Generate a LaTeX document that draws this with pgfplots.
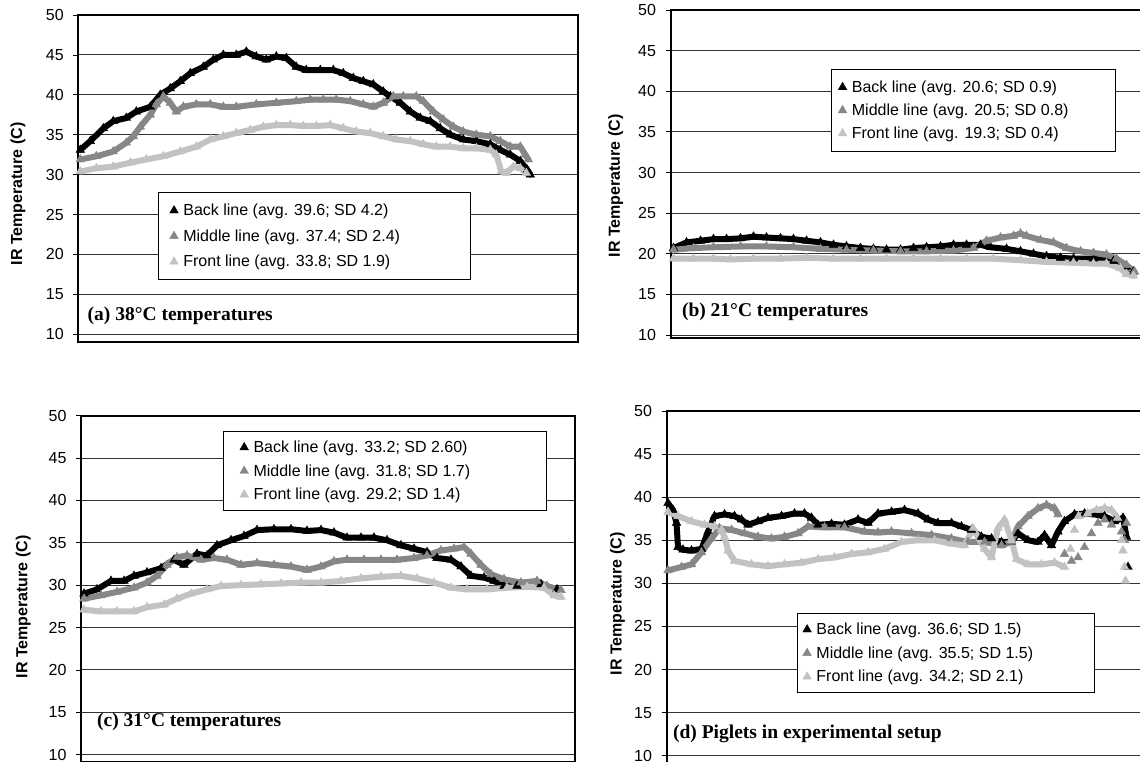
\documentclass[border=0pt]{standalone}
\usepackage{fontspec}
\setmainfont{Liberation Sans}
\newfontfamily\captionserif{Liberation Serif}
\usepackage{pgfplots}
\usepackage{pgfplotstable}
\pgfplotsset{compat=1.18}

\definecolor{backc}{gray}{0}
\definecolor{midc}{gray}{0.53}
\definecolor{frontc}{gray}{0.76}

% ---------------- (a) 38 C ----------------
\pgfplotstableread{
x y
2 33.1
12 34.2
25 35.8
35 36.7
48 37.1
58 37.9
72 38.5
82 40.0
92 40.8
102 41.7
112 42.7
125 43.5
135 44.4
145 45.0
158 45.0
168 45.4
178 44.8
188 44.4
198 44.8
208 44.6
218 43.5
228 43.1
242 43.1
255 43.1
265 42.7
275 42.1
285 41.7
295 41.3
305 40.4
312 39.8
322 39.0
332 37.9
342 37.1
352 36.7
362 35.8
372 35.0
385 34.4
398 34.2
412 33.8
422 33.1
432 32.5
442 31.7
449 30.6
452 30.0
}\aBack
\pgfplotstableread{
x y
2 31.9
18 32.3
35 32.9
48 34.0
55 34.8
62 36.0
72 37.5
78 38.8
85 39.8
92 39.0
98 37.9
105 38.5
118 38.8
132 38.8
145 38.5
158 38.5
178 38.8
198 39.0
218 39.2
232 39.4
245 39.4
258 39.4
272 39.2
285 38.8
295 38.5
305 39.0
315 39.8
325 39.8
338 39.8
345 39.2
355 37.9
365 36.9
375 36.0
385 35.4
398 35.0
412 34.8
422 34.2
432 33.5
442 33.5
447 32.5
450 31.9
}\aMid
\pgfplotstableread{
x y
2 30.4
18 30.8
35 31.0
52 31.5
68 31.9
85 32.3
102 32.9
118 33.5
132 34.4
145 34.8
158 35.2
172 35.6
185 36.0
198 36.2
212 36.2
225 36.1
238 36.1
252 36.2
265 35.8
278 35.4
292 35.2
305 34.8
318 34.4
332 34.2
345 33.8
358 33.5
372 33.5
385 33.3
398 33.3
412 33.1
418 32.5
423 30.4
428 30.2
435 31.0
442 30.8
448 30.2
}\aFront

% ---------------- (b) 21 C ----------------
\pgfplotstableread{
x y
3 20.7
16 21.4
30 21.6
43 21.8
56 21.8
70 21.9
83 22.1
96 22.0
110 21.9
123 21.8
136 21.6
150 21.4
163 21.1
176 20.9
190 20.7
203 20.6
216 20.5
230 20.5
243 20.7
256 20.8
270 20.9
283 21.1
296 21.1
310 21.1
320 20.8
336 20.6
350 20.3
363 20.0
376 19.7
390 19.5
403 19.4
423 19.4
443 19.1
456 18.4
463 17.8
}\bBack
\pgfplotstableread{
x y
3 20.5
23 20.7
43 20.8
70 20.9
96 20.9
123 20.8
150 20.6
176 20.5
203 20.4
230 20.3
256 20.3
283 20.4
303 20.7
316 21.6
330 22.0
343 22.2
350 22.5
356 22.2
370 21.7
383 21.4
396 20.7
410 20.3
423 20.1
436 19.9
446 19.4
456 18.6
464 17.8
}\bMid
\pgfplotstableread{
x y
3 19.4
23 19.4
43 19.4
60 19.3
83 19.4
110 19.4
136 19.5
163 19.4
190 19.4
216 19.4
243 19.4
270 19.4
296 19.4
323 19.4
350 19.2
376 19.0
403 18.9
423 18.8
436 18.8
450 18.2
456 17.5
463 17.3
}\bFront

% ---------------- (c) 31 C ----------------
\pgfplotstableread{
x y
3 29.0
16 29.5
30 30.5
43 30.5
53 31.1
66 31.5
80 32.0
93 33.0
103 32.4
116 33.7
126 33.5
136 34.7
150 35.3
163 35.8
176 36.5
193 36.6
210 36.6
226 36.4
240 36.5
253 36.2
266 35.6
280 35.6
293 35.6
306 35.3
320 34.7
333 34.3
346 33.9
356 33.2
370 33.0
380 32.2
390 31.1
403 30.9
413 30.5
423 29.9
436 29.9
460 30.1
476 29.5
}\cBack
\pgfplotstableread{
x y
3 28.4
20 28.8
36 29.2
53 29.7
66 30.3
76 31.1
86 32.4
96 33.3
106 33.5
120 33.0
133 33.2
146 33.0
160 32.4
176 32.6
193 32.4
210 32.2
226 31.8
240 32.2
253 32.8
266 33.0
283 33.0
300 33.0
316 33.0
333 33.2
346 33.5
360 34.1
373 34.3
383 34.5
390 33.7
400 32.4
410 31.3
423 30.7
440 30.3
456 30.5
466 29.9
480 29.4
}\cMid
\pgfplotstableread{
x y
3 27.1
20 26.9
36 26.9
53 26.9
66 27.4
83 27.7
96 28.4
110 29.0
126 29.5
140 29.9
160 30.0
180 30.1
200 30.2
220 30.3
240 30.3
260 30.5
280 30.8
300 31.0
320 31.1
336 30.8
353 30.3
370 29.7
386 29.5
406 29.5
426 29.7
446 29.8
463 29.7
473 28.8
480 28.6
}\cFront

% ---------------- (d) piglets ----------------
\pgfplotstableread{
x y
1.5 39.3
6.5 38.5
10 37.0
11.5 34.2
16.5 33.9
25 33.8
35 34.0
41.5 36.0
48 37.8
58 38.0
68 37.8
75 37.4
81.5 36.8
91.5 37.2
101.5 37.6
115 37.8
128 38.1
138 38.1
145 37.6
151.5 36.8
165 36.9
178 36.8
191.5 37.4
201.5 37.0
211.5 38.1
225 38.3
238 38.5
251.5 38.1
261.5 37.4
271.5 37.0
285 37.0
295 36.6
305 36.2
315 35.4
325 35.2
335 34.8
345 34.8
351.5 35.8
361.5 35.0
371.5 34.8
378 35.6
385 34.4
391.5 36.0
398 37.2
408 38.0
418 38.1
428 38.0
438 37.8
448 37.2
456.5 37.6
460 35.4
460.5 nan
461.5 31.9
}\dBack
\pgfplotstableread{
x y
1.5 31.5
15 31.9
25 32.2
35 33.6
45 35.2
53 36.4
65 36.2
78 35.8
91.5 35.4
105 35.2
118 35.4
131.5 35.8
141.5 36.6
158 36.5
178 36.5
198 36.0
211.5 35.9
225 36.0
245 35.8
265 35.6
285 35.2
301.5 34.8
318 34.8
335 34.4
345 34.8
351.5 36.6
361.5 37.8
371.5 38.7
380 39.1
388 38.7
391.5 38.0
395 nan
398 33.4
401 nan
405 32.6
408 nan
411.5 33.0
414 nan
418 34.2
421 nan
425 35.8
428 nan
431.5 37.0
434 nan
438 37.4
441 nan
445 36.8
450 nan
455 36.0
456 nan
458 35.0
459 nan
460 37.0
}\dMid
\pgfplotstableread{
x y
1.5 38.3
11.5 37.8
25 37.2
38 36.8
48 36.6
55 36.2
58 35.4
61.5 33.8
68 32.6
85 32.2
101.5 32.0
118 32.2
135 32.4
151.5 32.8
168 33.0
185 33.4
201.5 33.6
218 34.0
235 34.8
251.5 35.0
268 35.0
285 34.6
298 34.4
306.5 36.4
318 34.0
325 33.0
331.5 36.4
338 37.4
345 35.0
350 32.8
361.5 32.2
375 32.2
388 32.4
398 31.9
401 nan
404 34.0
406 nan
408 36.2
410 nan
412 37.8
421 38.1
430 38.5
438 38.7
445 38.5
451 37.6
453 nan
455 35.0
455.5 nan
456.5 33.8
457 nan
458 31.9
458.5 nan
459 30.3
}\dFront

\pgfplotsset{
  irpanel/.style={
    scale only axis,
    xmin=0, ymax=50,
    xtick=\empty,
    ytick={10,15,...,50},
    ytick pos=left,
    tick align=outside,
    major tick length=5pt,
    tick style={black, line width=0.8pt},
    axis line style={black, line width=2pt},
    ymajorgrids,
    grid style={black!80, line width=0.9pt},
    yticklabel style={font=\fontsize{16}{16}\selectfont, xshift=-6pt},
    /pgf/number format/assume math mode=true,
    unbounded coords=jump,
    legend cell align=left,
    legend image code/.code={\draw[mark repeat=2,mark phase=2,##1] plot coordinates {(0pt,0pt) (6pt,0pt) (12pt,0pt)};},
    legend style={draw=black, line width=0.8pt, fill=white, anchor=north west,
      font=\fontsize{16}{16}\selectfont, nodes={inner sep=0pt}},
  },
  band/.style={draw=#1, line width=6pt, line join=round, line cap=round, no markers, forget plot},
  tri/.style={only marks, mark=triangle*, mark size=5pt, color=#1, mark options={line width=0.4pt}},
}

\newcommand{\ylab}{\bfseries\fontsize{16}{16}\selectfont}
\newcommand{\ptitle}{\captionserif\bfseries\fontsize{19.5}{20}\selectfont}
% legend entry text, padded to a fixed cell width
\newcommand{\lentry}[2]{\makebox[#1][l]{\hspace*{5pt}#2}}

\begin{document}
\begin{tikzpicture}
\useasboundingbox (0pt,0pt) rectangle (1140pt,-761pt);

% (a)
\begin{axis}[irpanel, at={(78.3pt,-15pt)}, anchor=north west,
  width=500pt, height=326.7pt, xmax=500, ymin=9.07,
  legend style={at={(0.160,0.458)}, inner xsep=11pt, inner ysep=11.5pt, row sep=12.5pt}]
\addplot[band=backc] table {\aBack};
\addplot[tri=backc] table {\aBack};
\addlegendentry{\lentry{281pt}{Back line (avg. 39.6; SD 4.2)}}
\addplot[band=midc] table {\aMid};
\addplot[tri=midc] table {\aMid};
\addlegendentry{\lentry{281pt}{Middle line (avg. 37.4; SD 2.4)}}
\addplot[band=frontc] table {\aFront};
\addplot[tri=frontc] table {\aFront};
\addlegendentry{\lentry{281pt}{Front line (avg. 33.8; SD 1.9)}}
\end{axis}

% (b)
\begin{axis}[irpanel, at={(670.5pt,-10pt)}, anchor=north west,
  width=480pt, height=327.7pt, xmax=480, ymin=9.67,
  legend style={at={(0.334,0.819)}, inner xsep=7pt, inner ysep=11pt, row sep=10pt}]
\addplot[band=backc] table {\bBack};
\addplot[tri=backc] table {\bBack};
\addlegendentry{\lentry{262pt}{Back line (avg. 20.6; SD 0.9)}}
\addplot[band=midc] table {\bMid};
\addplot[tri=midc] table {\bMid};
\addlegendentry{\lentry{262pt}{Middle line (avg. 20.5; SD 0.8)}}
\addplot[band=frontc] table {\bFront};
\addplot[tri=frontc] table {\bFront};
\addlegendentry{\lentry{262pt}{Front line (avg. 19.3; SD 0.4)}}
\end{axis}

% (c)
\begin{axis}[irpanel, at={(81pt,-415.7pt)}, anchor=north west,
  width=494pt, height=346.3pt, xmax=494, ymin=9.13,
  legend style={at={(0.287,0.956)}, inner xsep=16.7pt, inner ysep=9.5pt, row sep=10.5pt}]
\addplot[band=backc] table {\cBack};
\addplot[tri=backc] table {\cBack};
\addlegendentry{\lentry{281pt}{Back line (avg. 33.2; SD 2.60)}}
\addplot[band=midc] table {\cMid};
\addplot[tri=midc] table {\cMid};
\addlegendentry{\lentry{281pt}{Middle line (avg. 31.8; SD 1.7)}}
\addplot[band=frontc] table {\cFront};
\addplot[tri=frontc] table {\cFront};
\addlegendentry{\lentry{281pt}{Front line (avg. 29.2; SD 1.4)}}
\end{axis}

% (d)
\begin{axis}[irpanel, at={(666.5pt,-411pt)}, anchor=north west,
  width=480pt, height=353.3pt, xmax=480, ymin=9.0,
  legend style={at={(0.271,0.428)}, inner xsep=5.8pt, inner ysep=9.5pt, row sep=10.5pt}]
\addplot[band=backc] table {\dBack};
\addplot[tri=backc] table {\dBack};
\addlegendentry{\lentry{277pt}{Back line (avg. 36.6; SD 1.5)}}
\addplot[band=midc] table {\dMid};
\addplot[tri=midc] table {\dMid};
\addlegendentry{\lentry{277pt}{Middle line (avg. 35.5; SD 1.5)}}
\addplot[band=frontc] table {\dFront};
\addplot[tri=frontc] table {\dFront};
\addlegendentry{\lentry{277pt}{Front line (avg. 34.2; SD 2.1)}}
\end{axis}

% axis titles and panel captions
\node[rotate=90, font=\ylab] at (17.9pt,-194pt) {IR Temperature (C)};
\node[rotate=90, font=\ylab] at (615.7pt,-186pt) {IR Temperature (C)};
\node[rotate=90, font=\ylab] at (23.2pt,-607pt) {IR Temperature (C)};
\node[rotate=90, font=\ylab] at (617.5pt,-604pt) {IR Temperature (C)};

\node[anchor=base west, inner sep=0pt, font=\ptitle] at (87.5pt,-320.5pt) {(a) 38°C temperatures};
\node[anchor=base west, inner sep=0pt, font=\ptitle] at (681.8pt,-316pt) {(b) 21°C temperatures};
\node[anchor=base west, inner sep=0pt, font=\ptitle] at (97pt,-726.7pt) {(c) 31°C temperatures};
\node[anchor=base west, inner sep=0pt, font=\ptitle] at (672.9pt,-738.3pt) {(d) Piglets in experimental setup};
\end{tikzpicture}
\end{document}
